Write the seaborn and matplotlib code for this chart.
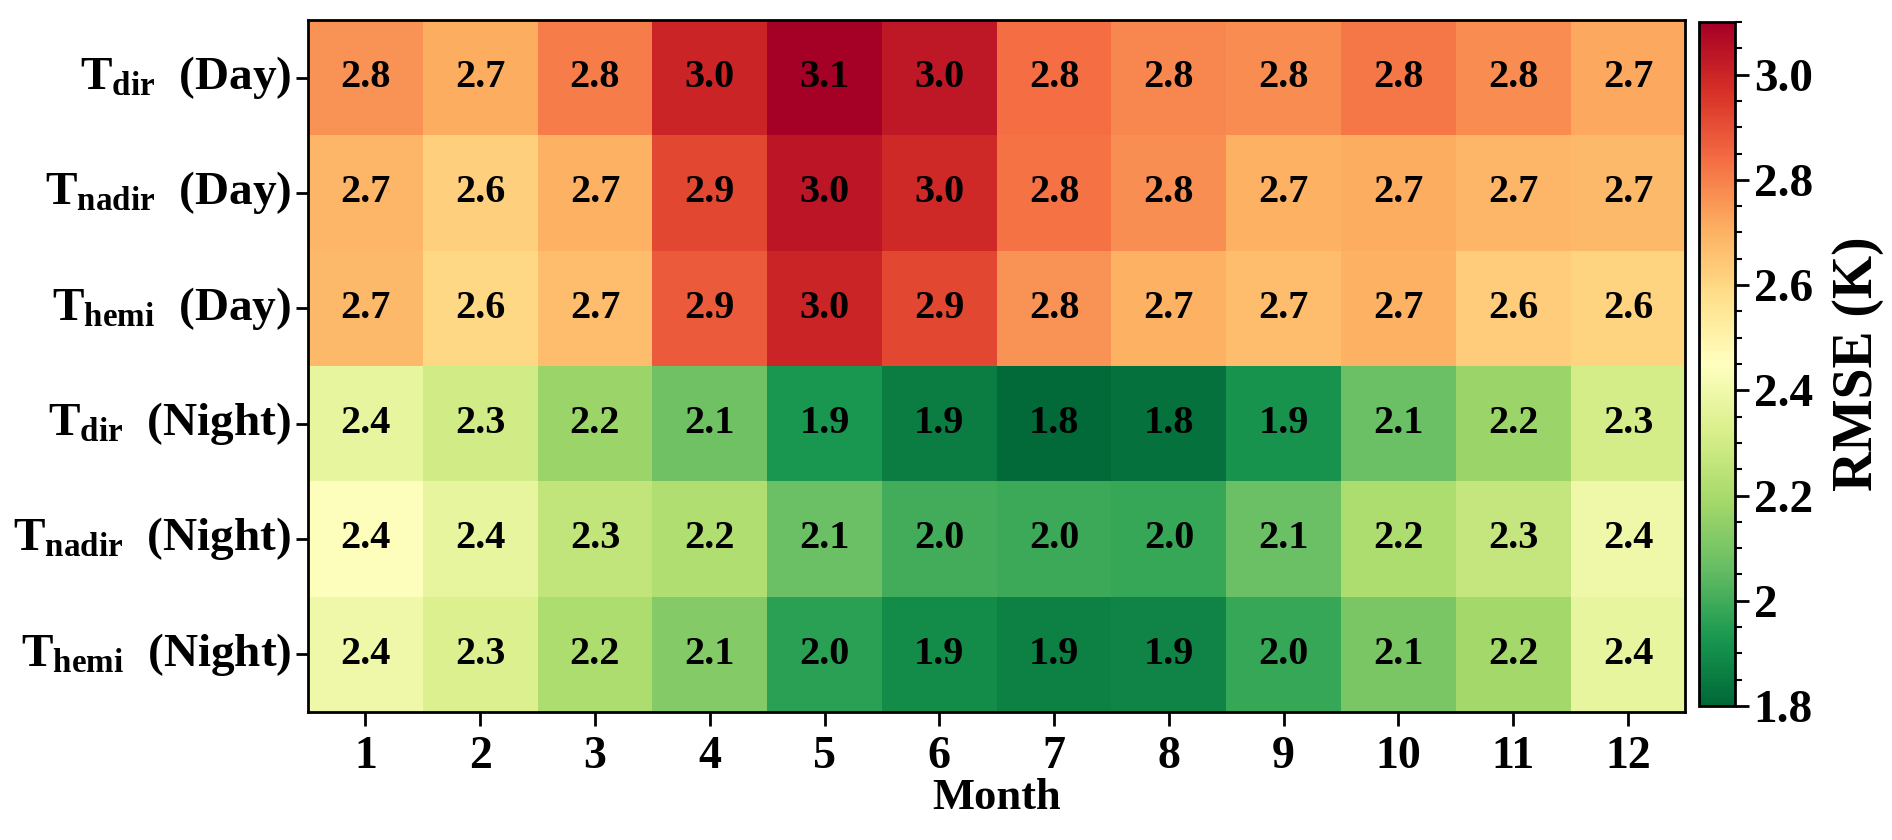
import numpy as np
import pandas as pd
import matplotlib
matplotlib.use('Agg')
import matplotlib.pyplot as plt
from matplotlib.ticker import MultipleLocator
import seaborn as sns

# ================== 数据 ==================
months = [str(m) for m in range(1, 13)]
row_labels = [r'$\mathrm{T_{dir}}$  (Day)', r'$\mathrm{T_{nadir}}$  (Day)', r'$\mathrm{T_{hemi}}$  (Day)',
              r'$\mathrm{T_{dir}}$  (Night)', r'$\mathrm{T_{nadir}}$  (Night)', r'$\mathrm{T_{hemi}}$  (Night)']

tdir_day = [2.76, 2.71, 2.81, 3.00, 3.10, 3.03, 2.84, 2.79, 2.78, 2.82, 2.78, 2.72]
tnadir_day = [2.69, 2.62, 2.70, 2.92, 3.04, 2.99, 2.83, 2.77, 2.70, 2.71, 2.69, 2.68]
themi_day = [2.68, 2.60, 2.67, 2.88, 3.00, 2.92, 2.76, 2.70, 2.67, 2.70, 2.63, 2.61]
tdir_night = [2.37, 2.30, 2.17, 2.08, 1.93, 1.86, 1.81, 1.83, 1.92, 2.07, 2.17, 2.31]
tnadir_night = [2.44, 2.37, 2.26, 2.22, 2.07, 2.00, 1.99, 1.98, 2.07, 2.21, 2.27, 2.39]
themi_night = [2.39, 2.33, 2.21, 2.12, 1.96, 1.90, 1.87, 1.88, 1.98, 2.10, 2.19, 2.37]

cbar_ticks = [1.8, 2.0, 2.2, 2.4, 2.6, 2.8, 3.0]
cbar_ticklabels = ['1.8', '2', '2.2', '2.4', '2.6', '2.8', '3.0']

df = pd.DataFrame([tdir_day, tnadir_day, themi_day, tdir_night, tnadir_night, themi_night],
                  index=row_labels, columns=months)

# ================== 样式 ==================
sns.set_style('ticks')
plt.rcParams['font.family'] = ['Liberation Serif', 'DejaVu Serif']
plt.rcParams['font.weight'] = 'bold'
plt.rcParams['axes.labelweight'] = 'bold'
plt.rcParams['text.color'] = 'black'
plt.rcParams['axes.labelcolor'] = 'black'
plt.rcParams['xtick.color'] = 'black'
plt.rcParams['ytick.color'] = 'black'
plt.rcParams['mathtext.fontset'] = 'custom'
plt.rcParams['mathtext.rm'] = 'Liberation Serif:bold'
plt.rcParams['mathtext.bf'] = 'Liberation Serif:bold'
plt.rcParams['mathtext.it'] = 'Liberation Serif:bold'

fig = plt.figure(figsize=(18.92, 8.4), dpi=100)
ax = fig.add_axes([0.1628, 0.1524, 0.728, 0.824])
cax = fig.add_axes([0.898, 0.1595, 0.019, 0.8143])

sns.heatmap(df, ax=ax, cbar_ax=cax, cmap='RdYlGn_r', vmin=1.8, vmax=3.1,
            annot=True, fmt='.1f',
            annot_kws={'fontsize': 29, 'fontweight': 'bold', 'color': 'black'})

# 边框
for s in ax.spines.values():
    s.set_visible(True)
    s.set_linewidth(2)
    s.set_color('black')

ax.tick_params(axis='x', length=10, width=2, pad=7, colors='black')
ax.tick_params(axis='y', length=9, width=2, pad=3, colors='black')
ax.set_yticklabels(row_labels, rotation=0, fontsize=34, fontweight='bold', color='black')
ax.set_xticklabels(months, rotation=0, fontsize=33, fontweight='bold', color='black')
ax.set_xlabel('Month', fontsize=32, fontweight='bold', labelpad=0, color='black')
ax.set_ylabel('')

# 色标
cbar = ax.collections[0].colorbar
cbar.set_ticks(cbar_ticks)
cbar.set_ticklabels(cbar_ticklabels)
cbar.ax.yaxis.set_minor_locator(MultipleLocator(0.05))
cbar.ax.tick_params(which='major', length=10, width=2, labelsize=34, colors='black')
cbar.ax.tick_params(which='minor', length=5, width=1.5, colors='black')
for lab in cbar.ax.get_yticklabels():
    lab.set_fontweight('bold')
cbar.outline.set_linewidth(2)
cbar.outline.set_edgecolor('black')
cbar.set_label('RMSE (K)', fontsize=40, fontweight='bold', labelpad=14, color='black')

fig.savefig('out.png', dpi=100)
